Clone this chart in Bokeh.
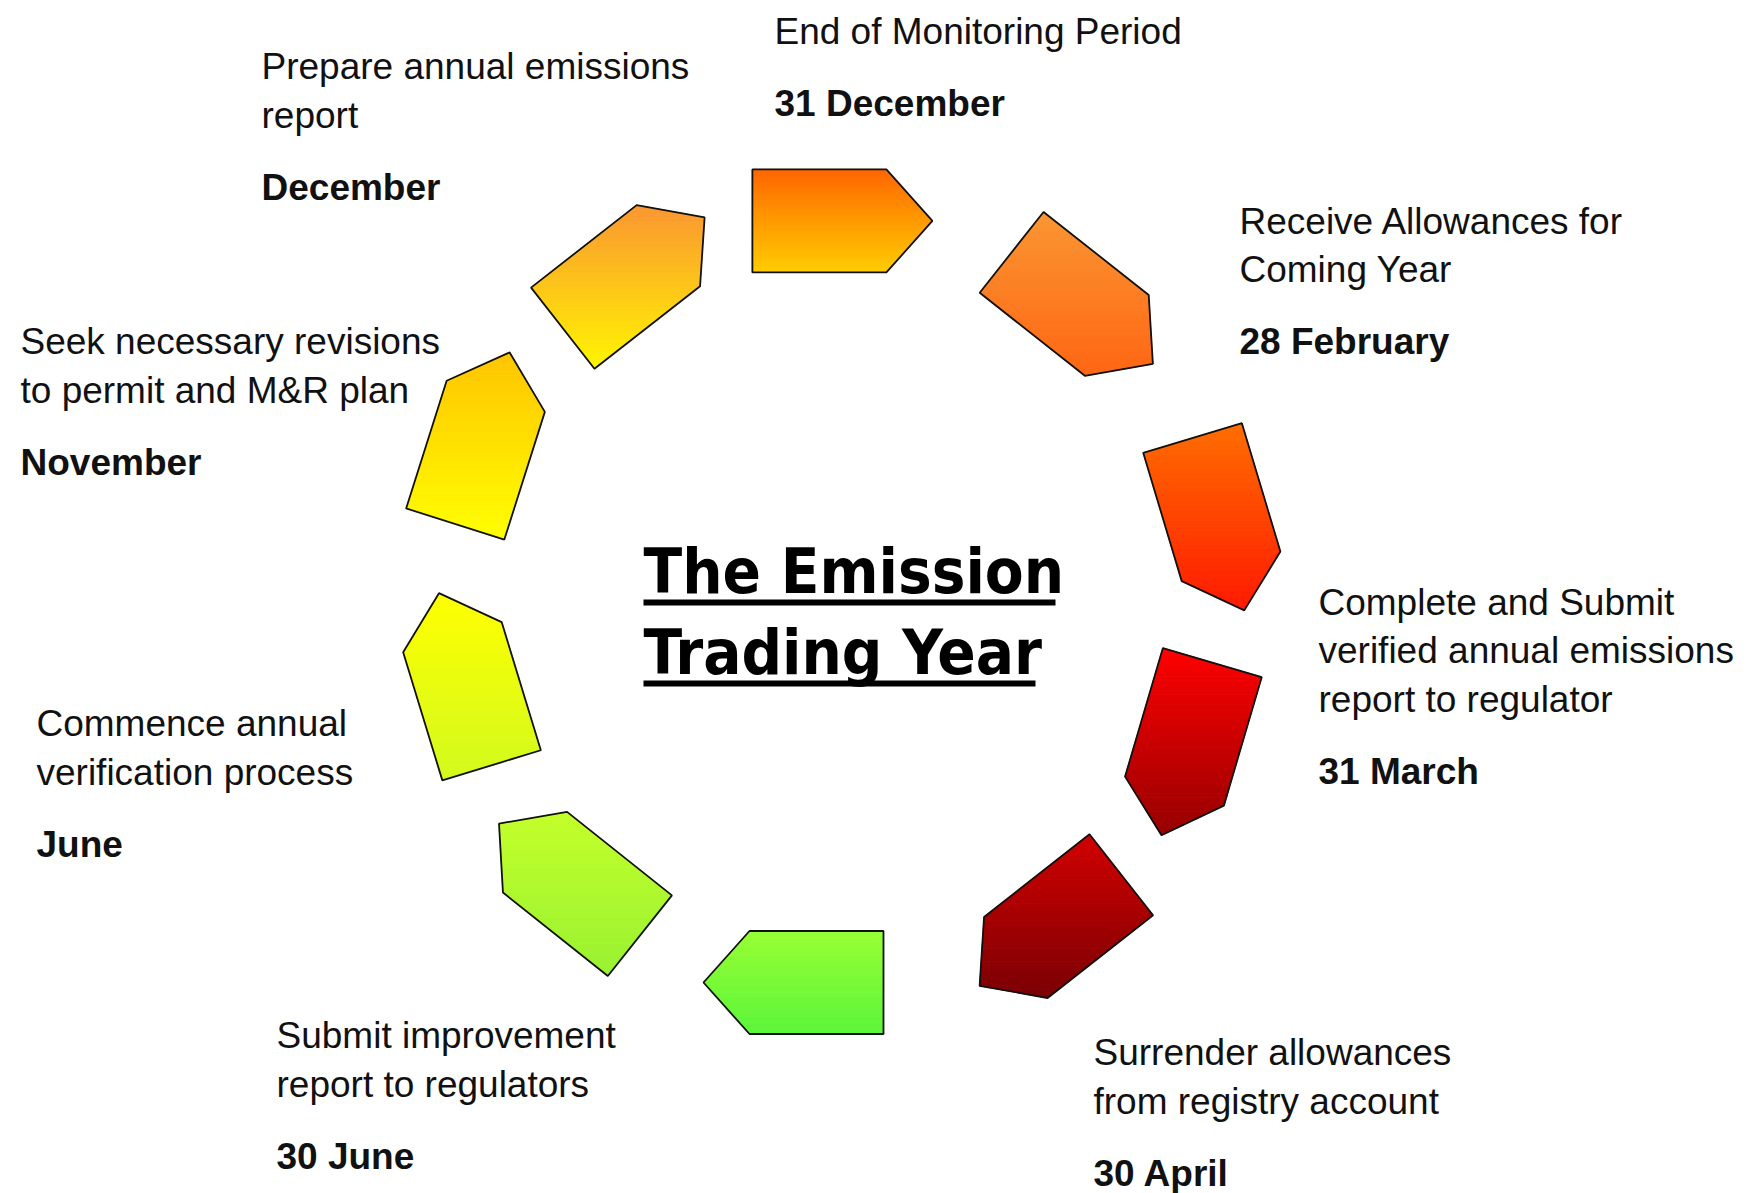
import numpy as np
from bokeh.plotting import figure
from bokeh.models import Range1d
from bokeh.core.properties import value
from bokeh.embed import file_html
from bokeh.resources import INLINE

# ---------------- data ----------------
title_lines = ["The Emission", "Trading Year"]

step_lines = [
    ["End of Monitoring Period"],
    ["Prepare annual emissions", "report"],
    ["Receive Allowances for", "Coming Year"],
    ["Seek necessary revisions", "to permit and M&R plan"],
    ["Complete and Submit", "verified annual emissions", "report to regulator"],
    ["Commence annual", "verification process"],
    ["Submit improvement", "report to regulators"],
    ["Surrender allowances", "from registry account"],
]
step_dates = ["31 December", "December", "28 February", "November",
              "31 March", "June", "30 June", "30 April"]

# gradient colours of the ten arrows (top colour, bottom colour), clockwise from the top
arrow_top = ["#FF6600", "#FA9633", "#FF6E00", "#FF0000", "#D20000",
             "#98FF34", "#C4FF2A", "#FFFF00", "#FFC400", "#FA9632"]
arrow_bottom = ["#FFCC00", "#FF6614", "#FF1A00", "#960000", "#7A0004",
                "#5CF53A", "#98F232", "#D2FA1E", "#FFFF00", "#FFF500"]

# ---------------- layout ----------------
ring_cx, ring_cy = 832.0, 598.0
arrow_pos_deg = [-88.5, -49.3, -10.9, 23.0, 56.7, 95.8, 133.1, 167.6, 204.6, 238.6]
arrow_radius = [377.7, 383.0, 393.0, 385.0, 397.0, 386.0, 385.0, 376.0, 385.0, 381.6]
arrow_dir_deg = [0, 38.3, 73.3, 106.4, 141.9, 180, 218.5, 253, 287.6, 322]

label_x = [774, 261, 1239, 20, 1318, 36, 276, 1093]
label_y = [30, 65, 219.5, 340, 600.6, 722, 1034, 1051]
LINE_GAP = 48.7
DATE_GAP = 72.0

W, H = 1747, 1193
p = figure(width=W, height=H, output_backend="svg", toolbar_location=None,
           x_range=Range1d(0, W), y_range=Range1d(H, 0),
           min_border=0)
p.axis.visible = False
p.grid.visible = False
p.outline_line_color = None
p.background_fill_color = "white"
p.border_fill_color = "white"


def hex2rgb(h):
    h = h.lstrip("#")
    return np.array([int(h[i:i + 2], 16) for i in (0, 2, 4)], dtype=float)


def rgb2hex(c):
    c = np.clip(np.round(c), 0, 255).astype(int)
    return "#%02x%02x%02x" % tuple(c)


def clip_half(pts, y0, keep_above):
    out = []
    n = len(pts)
    for i in range(n):
        a = pts[i]
        b = pts[(i + 1) % n]
        ina = (a[1] >= y0) if keep_above else (a[1] <= y0)
        inb = (b[1] >= y0) if keep_above else (b[1] <= y0)
        if ina:
            out.append(a)
        if ina != inb:
            t = (y0 - a[1]) / (b[1] - a[1])
            out.append((a[0] + t * (b[0] - a[0]), y0))
    return out


BODY_BACK, BODY_FRONT, TIP, HALF_W = -90.0, 44.0, 90.0, 51.5
local = [(BODY_BACK, -HALF_W), (BODY_FRONT, -HALF_W), (TIP, 0.0),
         (BODY_FRONT, HALF_W), (BODY_BACK, HALF_W)]

band_xs, band_ys, band_col = [], [], []
out_xs, out_ys = [], []
N_BANDS = 40
for k in range(10):
    a = np.deg2rad(arrow_pos_deg[k])
    cx = ring_cx + arrow_radius[k] * np.cos(a)
    cy = ring_cy + arrow_radius[k] * np.sin(a)
    th = np.deg2rad(arrow_dir_deg[k])
    pts = [(cx + u * np.cos(th) - v * np.sin(th), cy + u * np.sin(th) + v * np.cos(th))
           for (u, v) in local]
    out_xs.append([q[0] for q in pts])
    out_ys.append([q[1] for q in pts])
    ymin = min(q[1] for q in pts)
    ymax = max(q[1] for q in pts)
    c0, c1 = hex2rgb(arrow_top[k]), hex2rgb(arrow_bottom[k])
    edges = np.linspace(ymin, ymax, N_BANDS + 1)
    for j in range(N_BANDS):
        sub = clip_half(pts, edges[j], True)
        if len(sub) < 3:
            continue
        sub = clip_half(sub, edges[j + 1], False)
        if len(sub) < 3:
            continue
        t = (j + 0.5) / N_BANDS
        band_xs.append([q[0] for q in sub])
        band_ys.append([q[1] for q in sub])
        band_col.append(rgb2hex(c0 + (c1 - c0) * t))

p.patches(band_xs, band_ys, fill_color=band_col, line_color=band_col, line_width=1)
p.patches(out_xs, out_ys, fill_color=None, line_color="#111111", line_width=1.8)

# ---------------- labels ----------------
FONT = value("Liberation Sans")
SIZE = 37
Y_ADJ = 1.0
tx, ty, tt = [], [], []
bx, by, bt = [], [], []
for i, lines in enumerate(step_lines):
    y = label_y[i]
    for j, line in enumerate(lines):
        tx.append(label_x[i])
        ty.append(y + j * LINE_GAP + Y_ADJ)
        tt.append(line)
    bx.append(label_x[i])
    by.append(y + (len(lines) - 1) * LINE_GAP + DATE_GAP + Y_ADJ)
    bt.append(step_dates[i])

p.text(tx, ty, text=tt, text_font=FONT, text_font_size="%dpx" % SIZE,
       text_color="#111111", text_baseline="alphabetic", text_align="left")
p.text(bx, by, text=bt, text_font=FONT, text_font_size="%dpx" % SIZE,
       text_font_style="bold", text_color="#111111",
       text_baseline="alphabetic", text_align="left")

# ---------------- title ----------------
title_x = 643
title_base = [592, 673]
title_ul_end = [1055, 1035]
TSIZE = 63
p.text([title_x] * 2, [b - 0.335 * TSIZE for b in title_base], text=title_lines,
       text_font=value("DejaVu Sans Condensed"),
       text_font_size="%dpx" % TSIZE, text_font_style="bold", text_color="black",
       text_baseline="alphabetic", text_align="left")
p.segment(x0=[title_x] * 2, y0=[b + 10 for b in title_base], x1=title_ul_end,
          y1=[b + 10 for b in title_base], line_color="black", line_width=6)

open("out.html", "w").write(file_html(p, INLINE))
